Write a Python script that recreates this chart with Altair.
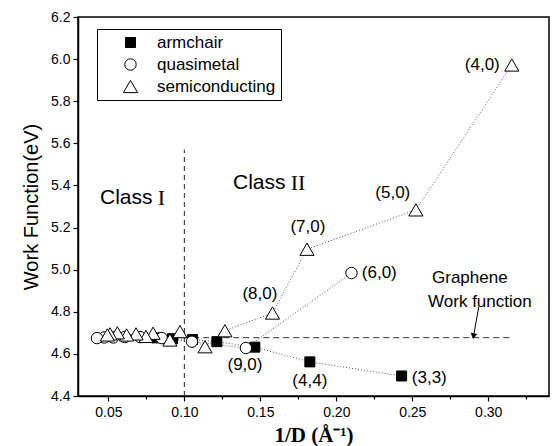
import altair as alt
import pandas as pd

# ---------------- data ----------------
arm_x = [0.243, 0.1826, 0.1464, 0.1214, 0.1054, 0.0922, 0.082]
arm_y = [4.495, 4.562, 4.632, 4.658, 4.668, 4.672, 4.676]

quasi_x = [0.210, 0.1405, 0.105, 0.0851, 0.0709, 0.0608, 0.0532, 0.0473, 0.0425]
quasi_y = [4.984, 4.628, 4.658, 4.675, 4.680, 4.680, 4.678, 4.678, 4.675]

semi_x = [0.3155, 0.2524, 0.1807, 0.158, 0.1267, 0.1136, 0.0971, 0.0905,
          0.0794, 0.0747, 0.0682, 0.062, 0.0559, 0.0511, 0.0493]
semi_y = [5.972, 5.284, 5.097, 4.794, 4.710, 4.634, 4.706, 4.666,
          4.698, 4.683, 4.695, 4.690, 4.700, 4.695, 4.690]

series_names = ["armchair", "quasimetal", "semiconducting"]

# point labels
lab_c_text = ["(5,0)", "(7,0)", "(8,0)", "(9,0)", "(4,4)"]
lab_c_x = [0.2372, 0.1813, 0.1497, 0.1399, 0.1826]
lab_c_y = [5.364, 5.203, 4.885, 4.548, 4.472]

lab_l_text = ["(6,0)", "(3,3)"]
lab_l_x = [0.2168, 0.2497]
lab_l_y = [4.984, 4.486]

lab_r_text = ["(4,0)"]
lab_r_x = [0.3076]
lab_r_y = [5.972]

class_word = ["Class", "Class"]
class_word_x = [0.0445, 0.132]
class_num = ["I", "II"]
class_num_x = [0.0825, 0.170]
class_y = [5.34, 5.412]

note_text = ["Graphene", "Work function"]
note_x = [0.2879, 0.2945]
note_y = [4.961, 4.847]

graphene_wf = 4.677
hline_x = [0.04, 0.316]
vline_x = 0.10
vline_y = [4.4, 5.57]
arrow_x = [0.2938, 0.2903]
arrow_y = [4.823, 4.684]

x_ticks = [0.05, 0.075, 0.10, 0.125, 0.15, 0.175, 0.20, 0.225, 0.25, 0.275, 0.30, 0.325]
y_ticks = [4.4, 4.5, 4.6, 4.7, 4.8, 4.9, 5.0, 5.1, 5.2, 5.3, 5.4, 5.5, 5.6, 5.7, 5.8, 5.9, 6.0, 6.1, 6.2]

# ---------------- tables ----------------
points = pd.DataFrame({
    "x": arm_x + quasi_x + semi_x,
    "y": arm_y + quasi_y + semi_y,
    "type": ["armchair"] * len(arm_x) + ["quasimetal"] * len(quasi_x) + ["semiconducting"] * len(semi_x),
})

xs = alt.Scale(domain=[0.03, 0.34], nice=False, zero=False)
ys = alt.Scale(domain=[4.4, 6.2], nice=False, zero=False)

x_major_test = "abs(datum.value*20 - round(datum.value*20)) < 0.001"
y_major_test = "abs(datum.value*5 - round(datum.value*5)) < 0.001"

x_axis = alt.Axis(
    values=x_ticks,
    labelExpr=f"{x_major_test} ? format(datum.value, '.2f') : ''",
    tickSize={"condition": {"test": x_major_test, "value": 5}, "value": 3},
    title="1/D (\u00c5\u207b\u00b9)",
    titleFont="Liberation Serif", titleFontWeight="bold", titleFontSize=21,
    titlePadding=5, labelPadding=4, labelFontSize=14, grid=False,
)
y_axis = alt.Axis(
    values=y_ticks,
    labelExpr=f"{y_major_test} ? format(datum.value, '.1f') : ''",
    tickSize={"condition": {"test": y_major_test, "value": 5}, "value": 3},
    title="Work Function(eV)",
    titleFontSize=20, titleFontWeight="normal", titlePadding=9,
    labelPadding=3, labelFontSize=14, grid=False,
)

X = alt.X("x:Q", scale=xs, axis=x_axis)
Y = alt.Y("y:Q", scale=ys, axis=y_axis)

legend = alt.Legend(
    orient="none", legendX=19, legendY=12, title=None,
    strokeColor="black", fillColor="white", padding=5,
    labelFontSize=17, labelFont="Liberation Sans", labelOffset=18,
    symbolOffset=20, rowPadding=4, symbolStrokeColor="black",
    symbolStrokeWidth=1,
)

lines = alt.Chart(points).mark_line(
    strokeDash=[1, 2], color="#555555", strokeWidth=1
).encode(x=X, y=Y, detail="type:N", order="x:Q")

pts = alt.Chart(points).mark_point(
    filled=False, strokeWidth=1, opacity=1
).encode(
    x=X, y=Y,
    shape=alt.Shape("type:N", scale=alt.Scale(domain=series_names, range=["square", "circle", "triangle-up"]), legend=legend),
    fill=alt.Fill("type:N", scale=alt.Scale(domain=series_names, range=["black", "white", "white"]), legend=legend),
    stroke=alt.Stroke("type:N", scale=alt.Scale(domain=series_names, range=["black", "black", "black"]), legend=legend),
    size=alt.Size("type:N", scale=alt.Scale(type="ordinal", domain=series_names, range=[100, 130, 200]), legend=legend),
)

hline_df = pd.DataFrame({"x": [hline_x[0]], "x2": [hline_x[1]], "y": [graphene_wf]})
hline = alt.Chart(hline_df).mark_rule(strokeDash=[6, 4], color="#333333", strokeWidth=1).encode(
    x=alt.X("x:Q", scale=xs), x2="x2:Q", y=alt.Y("y:Q", scale=ys))

vline_df = pd.DataFrame({"x": [vline_x], "y": [vline_y[0]], "y2": [vline_y[1]]})
vline = alt.Chart(vline_df).mark_rule(strokeDash=[5, 4], color="#222222", strokeWidth=1).encode(
    x=alt.X("x:Q", scale=xs), y=alt.Y("y:Q", scale=ys), y2="y2:Q")

arrow_df = pd.DataFrame({"x": [arrow_x[0]], "y": [arrow_y[0]], "x2": [arrow_x[1]], "y2": [arrow_y[1]]})
arrow_line = alt.Chart(arrow_df).mark_rule(color="black", strokeWidth=1).encode(
    x=alt.X("x:Q", scale=xs), y=alt.Y("y:Q", scale=ys), x2="x2:Q", y2="y2:Q")
arrow_head = alt.Chart(arrow_df).mark_point(
    shape="triangle-down", filled=True, color="black", size=45, angle=10, opacity=1
).encode(x=alt.X("x2:Q", scale=xs), y=alt.Y("y2:Q", scale=ys))


def text_layer(txt, xv, yv, align, size, font="Liberation Sans"):
    df = pd.DataFrame({"t": txt, "x": xv, "y": yv})
    return alt.Chart(df).mark_text(
        align=align, baseline="middle", fontSize=size, font=font, color="black"
    ).encode(x=alt.X("x:Q", scale=xs), y=alt.Y("y:Q", scale=ys), text="t:N")


labels = [
    text_layer(lab_c_text, lab_c_x, lab_c_y, "center", 17),
    text_layer(lab_l_text, lab_l_x, lab_l_y, "left", 17),
    text_layer(lab_r_text, lab_r_x, lab_r_y, "right", 17),
    text_layer(class_word, class_word_x, class_y, "left", 21),
    text_layer(class_num, class_num_x, class_y, "left", 22, font="Liberation Serif"),
    text_layer(note_text, note_x, note_y, "center", 17),
]

chart = alt.layer(
    hline, vline, lines, pts, arrow_line, arrow_head, *labels
).properties(
    width=471, height=379,
    autosize=alt.AutoSizeParams(type="none"),
    padding={"left": 78, "top": 17, "right": 5, "bottom": 50},
).configure(
    font="Liberation Sans",
    background="white",
).configure_view(
    stroke="black", strokeWidth=1.5,
).configure_axis(
    domainColor="black", domainWidth=1.5, tickColor="black", tickWidth=1.2,
    labelColor="black", titleColor="black", labelFont="Liberation Sans",
    titleFont="Liberation Sans",
)

chart.save("out.html", embed_options={"renderer": "svg", "actions": False})
